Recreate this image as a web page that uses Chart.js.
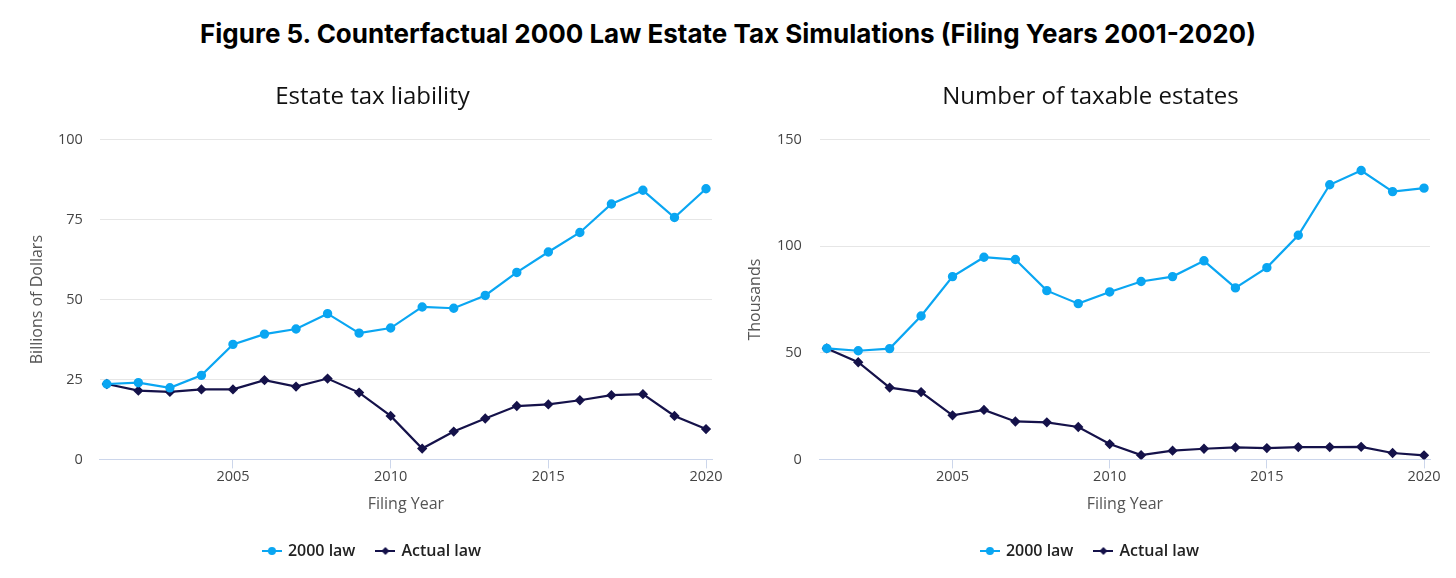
<!DOCTYPE html>
<html>
<head>
<meta charset="utf-8">
<script src="https://cdn.jsdelivr.net/npm/chart.js@4.4.1/dist/chart.umd.min.js"></script>
<style>
  body { margin: 0; background: #fff; width: 1456px; height: 578px; overflow: hidden; }
  h1 { margin: 0; height: 60px; font: 700 26px Inter, sans-serif; line-height: 68px; text-align: center; color: #000; }
  .row { display: flex; }
  .box { position: relative; width: 728px; height: 518px; }
</style>
</head>
<body>
<h1>Figure 5. Counterfactual 2000 Law Estate Tax Simulations (Filing Years 2001-2020)</h1>
<div class="row">
  <div class="box"><canvas id="liability"></canvas></div>
  <div class="box"><canvas id="estates"></canvas></div>
</div>
<script>
/* globals Chart:false */
(() => {
  'use strict'
  const years = [2001, 2002, 2003, 2004, 2005, 2006, 2007, 2008, 2009, 2010,
    2011, 2012, 2013, 2014, 2015, 2016, 2017, 2018, 2019, 2020]
  const yearTicks = [2005, 2010, 2015, 2020]

  // billions of dollars
  const liability2000 = [23.6, 24.0, 22.4, 26.3, 36.0, 39.2, 40.8, 45.6, 39.5, 41.1,
    47.7, 47.3, 51.3, 58.5, 64.9, 71.0, 79.9, 84.2, 75.7, 84.7]
  const liabilityActual = [23.6, 21.5, 21.1, 21.9, 21.9, 24.8, 22.8, 25.3, 20.9, 13.6,
    3.4, 8.7, 12.8, 16.7, 17.2, 18.5, 20.1, 20.4, 13.6, 9.5]
  const liabilityTicks = [0, 25, 50, 75, 100]

  // thousands of estates
  const estates2000 = [52.1, 51.0, 52.0, 67.3, 85.8, 94.9, 93.8, 79.2, 73.1, 78.6,
    83.5, 85.8, 93.2, 80.5, 90.0, 105.2, 128.9, 135.6, 125.7, 127.3]
  const estatesActual = [52.1, 45.6, 33.7, 31.6, 20.7, 23.2, 17.8, 17.4, 15.2, 7.2,
    2.0, 4.1, 5.0, 5.6, 5.3, 5.8, 5.8, 5.9, 3.0, 1.9]
  const estatesTicks = [0, 50, 100, 150]

  const blue = '#0aa6f2'
  const navy = '#15124a'
  const font = '"Open Sans", "Noto Sans", sans-serif'

  // little line-with-marker icon for the legend
  function legendIcon (color, style) {
    const c = document.createElement('canvas')
    c.width = 20; c.height = 12
    const g = c.getContext('2d')
    g.strokeStyle = color; g.fillStyle = color; g.lineWidth = 2
    g.beginPath(); g.moveTo(0, 6); g.lineTo(20, 6); g.stroke()
    g.beginPath()
    if (style === 'circle') {
      g.arc(10, 6, 4, 0, Math.PI * 2)
    } else {
      g.moveTo(10, 2); g.lineTo(14, 6); g.lineTo(10, 10); g.lineTo(6, 6); g.closePath()
    }
    g.fill()
    return c
  }
  const iconBlue = legendIcon(blue, 'circle')
  const iconNavy = legendIcon(navy, 'diamond')

  function makeChart (el, title, yTitle, a, b, ticks, pad, tickPad) {
    return new Chart(el, {
      type: 'line',
      data: {
        datasets: [{
          label: '2000 law',
          data: years.map((y, i) => ({ x: y, y: a[i] })),
          borderColor: blue,
          backgroundColor: blue,
          borderWidth: 2.2,
          pointStyle: 'circle',
          pointRadius: 3.6,
          pointHoverRadius: 5,
          tension: 0
        }, {
          label: 'Actual law',
          data: years.map((y, i) => ({ x: y, y: b[i] })),
          borderColor: navy,
          backgroundColor: navy,
          borderWidth: 2.2,
          pointStyle: 'rectRot',
          pointRadius: 3.6,
          pointHoverRadius: 5,
          tension: 0
        }]
      },
      options: {
        responsive: true,
        maintainAspectRatio: false,
        animation: false,
        layout: { padding: pad },
        plugins: {
          title: {
            display: true,
            text: title,
            color: '#111',
            font: { family: font, size: 24, weight: 'normal' },
            padding: { top: 23, bottom: 28 }
          },
          legend: {
            position: 'bottom',
            labels: {
              color: '#222',
              font: { family: font, size: 16, weight: '600' },
              usePointStyle: true,
              boxWidth: 20,
              boxHeight: 12,
              padding: 22,
              generateLabels: (chart) => chart.data.datasets.map((d, i) => ({
                text: d.label,
                pointStyle: i === 0 ? iconBlue : iconNavy,
                fillStyle: d.borderColor,
                strokeStyle: d.borderColor,
                lineWidth: 0,
                hidden: false,
                datasetIndex: i,
                fontColor: '#222'
              }))
            }
          },
          tooltip: { enabled: true }
        },
        scales: {
          x: {
            type: 'linear',
            min: 2000.78,
            max: 2020.19,
            afterBuildTicks: (axis) => { axis.ticks = yearTicks.map(v => ({ value: v })) },
            ticks: {
              color: '#444',
              font: { family: font, size: 14.5 },
              padding: 0,
              maxRotation: 0,
              callback: (v) => String(v)
            },
            grid: {
              drawOnChartArea: false,
              drawTicks: true,
              tickLength: 9,
              color: '#ccd6eb'
            },
            border: { display: true, color: '#ccd6eb', width: 1 },
            title: {
              display: true,
              text: 'Filing Year',
              color: '#555',
              font: { family: font, size: 16 },
              padding: { top: 9, bottom: 7 }
            }
          },
          y: {
            min: 0,
            max: ticks[ticks.length - 1],
            afterBuildTicks: (axis) => { axis.ticks = ticks.map(v => ({ value: v })) },
            ticks: {
              color: '#444',
              font: { family: font, size: 14.5 },
              padding: tickPad
            },
            grid: { color: '#e6e6e6', drawTicks: false },
            border: { display: false },
            title: {
              display: true,
              text: yTitle,
              color: '#555',
              font: { family: font, size: 16, lineHeight: 1 },
              padding: { top: -4, bottom: -4 }
            }
          }
        }
      }
    })
  }

  makeChart(document.getElementById('liability'), 'Estate tax liability', 'Billions of Dollars',
    liability2000, liabilityActual, liabilityTicks, { left: 33, right: 16, bottom: 9 }, 17)
  makeChart(document.getElementById('estates'), 'Number of taxable estates', 'Thousands',
    estates2000, estatesActual, estatesTicks, { left: 23, right: 26, bottom: 9 }, 18)
})()
</script>
</body>
</html>
